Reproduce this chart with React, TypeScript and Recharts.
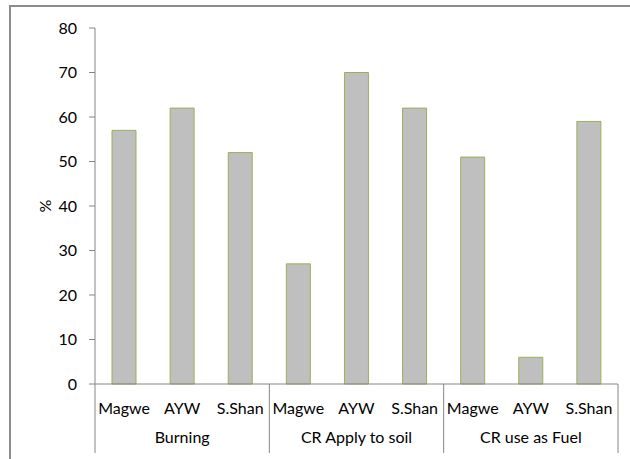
import React from "react"
import { BarChart, Bar, XAxis, YAxis } from "recharts"

const groups = ["Burning", "CR Apply to soil", "CR use as Fuel"]
const regions = ["Magwe", "AYW", "S.Shan"]
const burning = [57, 62, 52]
const applySoil = [27, 70, 62]
const useFuel = [51, 6, 59]
const yTicks = [0, 10, 20, 30, 40, 50, 60, 70, 80]

const seriesByGroup = [burning, applySoil, useFuel]

const data = groups.flatMap((g, gi) =>
  regions.map((r, ri) => ({ key: `${gi}-${ri}`, region: r, group: g, value: seriesByGroup[gi][ri] }))
)

const W = 630
const H = 459
const xAxisHeight = 30
const margin = { top: 28, right: 12, left: 0, bottom: 45 }
const yAxisWidth = 95
const plotW = W - margin.left - margin.right - yAxisWidth
const band = plotW / data.length
const axisY = H - margin.bottom - xAxisHeight
const font = "Lato, 'Open Sans', sans-serif"
const axisColor = "#868686"

function CategoryTick(props: any) {
  const { x, index } = props
  const d = data[index]
  const inGroup = index % regions.length
  return (
    <g>
      <text x={x} y={axisY + 30} textAnchor="middle" fontSize={16} fontFamily={font} fill="#000">
        {d.region}
      </text>
      {inGroup === 0 && (
        <line x1={x - band / 2} x2={x - band / 2} y1={axisY} y2={axisY + 69} stroke={axisColor} />
      )}
      {index === data.length - 1 && (
        <line x1={x + band / 2} x2={x + band / 2} y1={axisY} y2={axisY + 69} stroke={axisColor} />
      )}
      {inGroup === 1 && (
        <text x={x} y={axisY + 59} textAnchor="middle" fontSize={16} fontFamily={font} fill="#000">
          {d.group}
        </text>
      )}
    </g>
  )
}

export default function App() {
  return (
    <div style={{ position: "absolute", left: 0, top: 0, width: W, height: H, background: "#fff" }}>
      <div
        style={{
          position: "absolute",
          left: 9,
          top: 5,
          right: 0,
          bottom: 0,
          borderLeft: "2px solid #8c8c8c",
          borderTop: "2px solid #8c8c8c",
        }}
      />
      <BarChart width={W} height={H} data={data} margin={margin} barSize={24}>
        <XAxis
          dataKey="key"
          height={xAxisHeight}
          tick={<CategoryTick />}
          tickLine={false}
          axisLine={{ stroke: axisColor }}
          interval={0}
        />
        <YAxis
          width={yAxisWidth}
          domain={[0, 80]}
          ticks={yTicks}
          interval={0}
          tickSize={6}
          tickMargin={12}
          axisLine={{ stroke: axisColor }}
          tickLine={{ stroke: axisColor }}
          tick={{ fontSize: 16, fontFamily: font, fill: "#000" }}
          label={{
            value: "%",
            angle: -90,
            position: "insideLeft",
            offset: 45,
            style: { fontSize: 16, fontFamily: font, fill: "#000", textAnchor: "middle" },
          }}
        />
        <Bar dataKey="value" fill="#bfbfbf" stroke="#98b158" strokeWidth={1} isAnimationActive={false} />
      </BarChart>
    </div>
  )
}
